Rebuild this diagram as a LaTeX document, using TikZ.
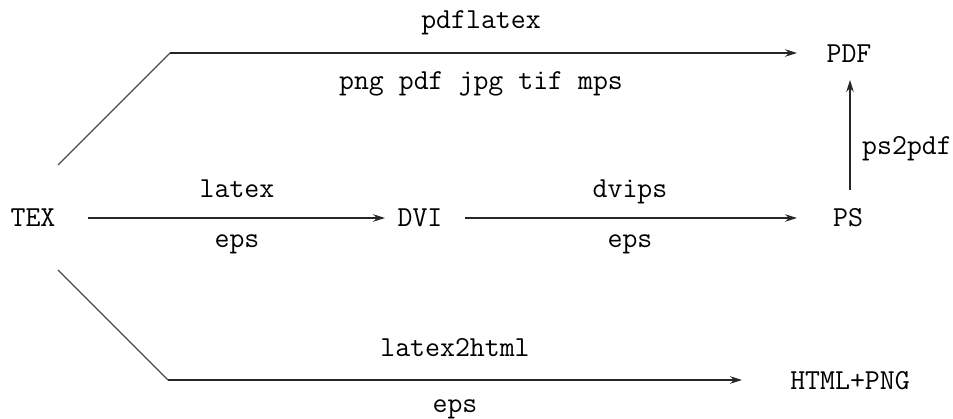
\documentclass[tikz,border=0pt]{standalone}
\usetikzlibrary{arrows.meta}
\begin{document}
\begin{tikzpicture}[x=1pt,y=-1pt,
  lbl/.style={anchor=base,inner sep=0pt,font=\ttfamily\fontsize{29}{34}\selectfont},
  conn/.style={line width=1.1pt,black!85},
  arr/.style={conn,-{Stealth[length=12pt,width=7.5pt]}}]
\useasboundingbox (0,0) rectangle (953,419);
% nodes
\node[lbl] (tex) at (33,227) {TEX};
\node[lbl] (dvi) at (420,227) {DVI};
\node[lbl] (ps) at (848,227) {PS};
\node[lbl] (pdf) at (849,63) {PDF};
\node[lbl] (html) at (850,390) {HTML+PNG};
% labels
\node[lbl] (l1) at (481,29) {pdflatex};
\node[lbl] (l2) at (481,90) {png pdf jpg tif mps};
\node[lbl] (l3) at (237,198) {latex};
\node[lbl] (l4) at (237,248) {eps};
\node[lbl] (l5) at (630,198) {dvips};
\node[lbl] (l6) at (630,248) {eps};
\node[lbl] (l7) at (455,357) {latex2html};
\node[lbl] (l8) at (455,412) {eps};
\node[lbl,anchor=west] (l9) at (862,149) {ps2pdf};
% coordinates
\coordinate (ts) at (58,165);
\coordinate (tb) at (170,53);
\coordinate (te) at (797,53);
\coordinate (bs) at (58,270);
\coordinate (bb) at (168,380);
\coordinate (be) at (742,380);
\coordinate (a1) at (88,218);
\coordinate (a2) at (385,218);
\coordinate (b1) at (465,218);
\coordinate (b2) at (797,218);
\coordinate (c1) at (850,190);
\coordinate (c2) at (850,80);
% connectors
\draw[conn,black!70] (ts) -- (tb);
\draw[arr] (tb) -- (te);
\draw[conn,black!70] (bs) -- (bb);
\draw[arr] (bb) -- (be);
\draw[arr] (a1) -- (a2);
\draw[arr] (b1) -- (b2);
\draw[arr] (c1) -- (c2);
\end{tikzpicture}
\end{document}
